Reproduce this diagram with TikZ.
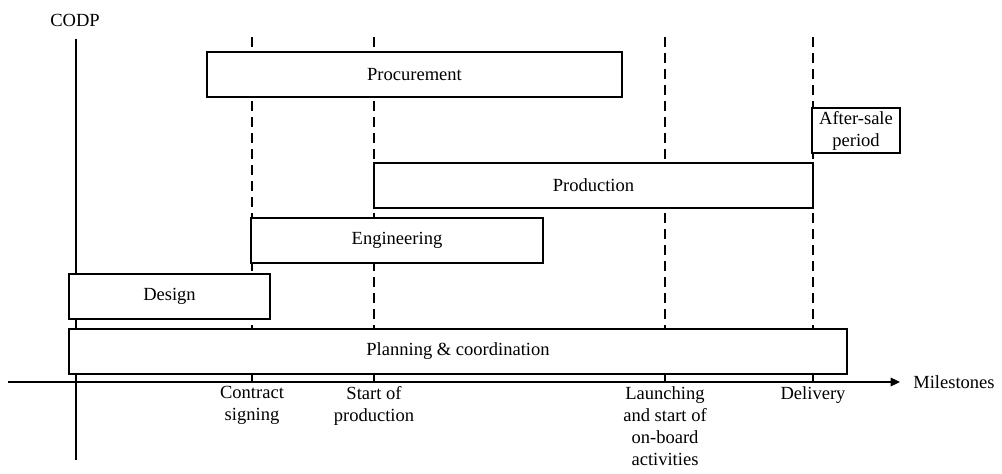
\documentclass[tikz,border=0pt]{standalone}
\usepackage{fontspec}
\setmainfont{Liberation Serif}
\usetikzlibrary{arrows.meta}
\begin{document}
\begin{tikzpicture}[x=0.75pt,y=-0.75pt,
  every node/.style={font=\fontsize{13.9}{16.5}\selectfont},
  phase/.style={draw, fill=white, line width=1.1pt, inner sep=0pt,
    minimum height=33.75pt, align=center},
  guide/.style={line width=0.9pt, dash pattern=on 7.5pt off 4.5pt},
  tick/.style={line width=0.9pt},
  milestone/.style={anchor=north, inner sep=0pt, align=center}]
\useasboundingbox (0,0) rectangle (1002,474);

% milestone positions on the time axis and the tops of their guide lines
\coordinate (m1) at (252,382); \coordinate (t1) at (252,37);
\coordinate (m2) at (374,382); \coordinate (t2) at (374,37);
\coordinate (m3) at (665,382); \coordinate (t3) at (665,37);
\coordinate (m4) at (813,382); \coordinate (t4) at (813,37);

% dashed milestone guides
\foreach \i in {1,...,4} \draw[guide] (t\i) -- (m\i);

% customer order decoupling point
\coordinate (codpTop) at (76,39);
\coordinate (codpBot) at (76,460);
\draw[line width=1pt] (codpTop) -- (codpBot);
\node (codp) at (75,20) {CODP};

% time axis
\coordinate (axisStart) at (8,382);
\coordinate (axisEnd) at (900,382);
\draw[line width=0.8pt, -{Triangle[length=7pt,width=6.5pt]}] (axisStart) -- (axisEnd);
\node[anchor=west, inner sep=0pt] (axislabel) at (913,382) {Milestones};

% phase bars
\node[phase, minimum width=311.25pt] (procurement) at (414.5,74.5) {Procurement};
\node[phase, minimum width=66pt] (aftersale) at (856,130.5) {After-sale\\period};
\node[phase, minimum width=329.25pt] (production) at (593.5,185.5) {Production};
\node[phase, minimum width=219pt] (engineering) at (397,240.5) {Engineering};
\node[phase, minimum width=150.75pt] (design) at (169.5,296.5) {Design};
\node[phase, minimum width=583.5pt] (planning) at (458,351.5) {Planning \& coordination};

% short ticks between the planning bar and the axis
\foreach \i in {1,...,4} \draw[tick] (planning.south -| m\i) -- (m\i);

% milestone labels
\node[milestone] (l1) at (252,386) {Contract\\signing};
\node[milestone] (l2) at (374,386) {Start of\\production};
\node[milestone] (l3) at (665,386) {Launching\\and start of\\on-board\\activities};
\node[milestone] (l4) at (813,386) {Delivery};
\end{tikzpicture}
\end{document}
